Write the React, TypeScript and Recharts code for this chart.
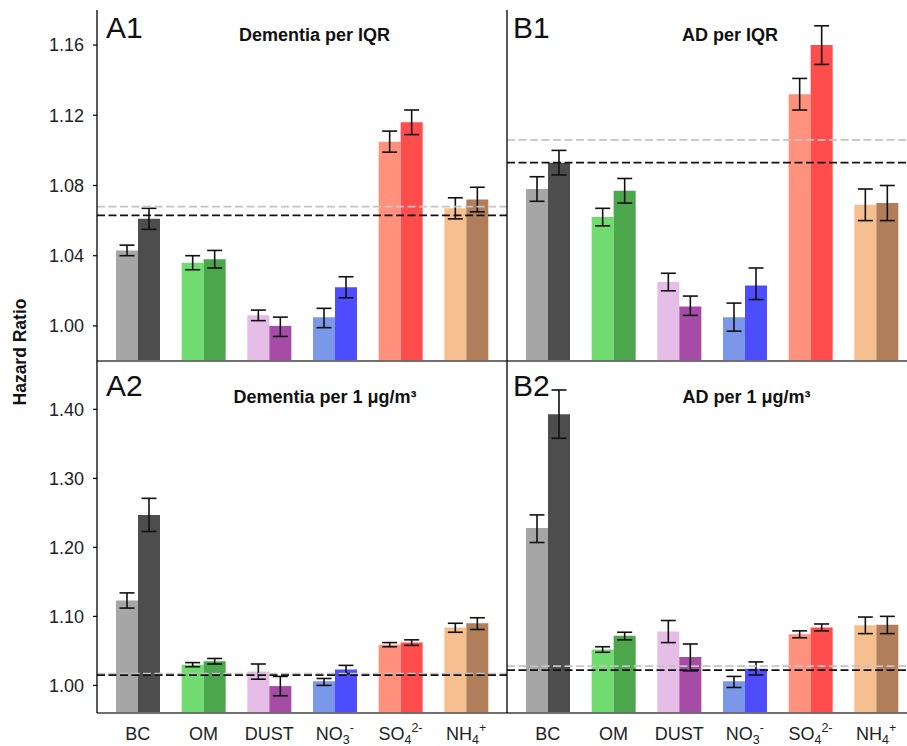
import React from 'react';
import { BarChart, Bar, XAxis, YAxis, ErrorBar, ReferenceLine, Cell } from 'recharts';

const FONT = "'Liberation Sans', Arial, Helvetica, sans-serif";

const categories = ['BC', 'OM', 'DUST', 'NO3', 'SO4', 'NH4'];
const lightColors = ['#a6a6a6', '#70db6e', '#e6bde6', '#7b98e8', '#ff917d', '#f6bf8f'];
const darkColors = ['#4d4d4d', '#4ca64c', '#a64ca6', '#4d4dff', '#ff4d4d', '#b07f5a'];

const topTicks = [1.0, 1.04, 1.08, 1.12, 1.16];
const bottomTicks = [1.0, 1.1, 1.2, 1.3, 1.4];
const topDomain = [0.98, 1.18];
const bottomDomain = [0.96, 1.47];

// A1 Dementia per IQR
const a1Light = [1.043, 1.036, 1.006, 1.005, 1.105, 1.067];
const a1LightLo = [1.040, 1.032, 1.003, 0.999, 1.099, 1.061];
const a1LightHi = [1.046, 1.040, 1.009, 1.010, 1.111, 1.073];
const a1Dark = [1.061, 1.038, 1.000, 1.022, 1.116, 1.072];
const a1DarkLo = [1.055, 1.033, 0.994, 1.016, 1.109, 1.065];
const a1DarkHi = [1.067, 1.043, 1.005, 1.028, 1.123, 1.079];
const a1Ref = [1.068, 1.063];

// B1 AD per IQR
const b1Light = [1.078, 1.062, 1.025, 1.005, 1.132, 1.069];
const b1LightLo = [1.071, 1.057, 1.020, 0.997, 1.123, 1.060];
const b1LightHi = [1.085, 1.067, 1.030, 1.013, 1.141, 1.078];
const b1Dark = [1.093, 1.077, 1.011, 1.023, 1.160, 1.070];
const b1DarkLo = [1.086, 1.070, 1.006, 1.015, 1.149, 1.060];
const b1DarkHi = [1.100, 1.084, 1.017, 1.033, 1.171, 1.080];
const b1Ref = [1.106, 1.093];

// A2 Dementia per 1 ug/m3
const a2Light = [1.123, 1.030, 1.020, 1.006, 1.059, 1.084];
const a2LightLo = [1.112, 1.027, 1.009, 1.000, 1.056, 1.077];
const a2LightHi = [1.134, 1.033, 1.031, 1.010, 1.062, 1.090];
const a2Dark = [1.247, 1.035, 0.999, 1.023, 1.062, 1.090];
const a2DarkLo = [1.223, 1.031, 0.985, 1.017, 1.058, 1.081];
const a2DarkHi = [1.271, 1.039, 1.013, 1.029, 1.066, 1.098];
const a2Ref = [1.017, 1.015];

// B2 AD per 1 ug/m3
const b2Light = [1.228, 1.052, 1.078, 1.006, 1.074, 1.087];
const b2LightLo = [1.207, 1.048, 1.062, 0.997, 1.069, 1.075];
const b2LightHi = [1.247, 1.056, 1.094, 1.013, 1.079, 1.099];
const b2Dark = [1.393, 1.072, 1.041, 1.024, 1.084, 1.088];
const b2DarkLo = [1.358, 1.066, 1.021, 1.015, 1.079, 1.075];
const b2DarkHi = [1.428, 1.077, 1.060, 1.034, 1.089, 1.100];
const b2Ref = [1.028, 1.022];

function buildRows(l: number[], lLo: number[], lHi: number[], d: number[], dLo: number[], dHi: number[]) {
  return categories.map((c, i) => ({
    cat: c,
    light: l[i],
    lightErr: [l[i] - lLo[i], lHi[i] - l[i]],
    dark: d[i],
    darkErr: [d[i] - dLo[i], dHi[i] - d[i]],
  }));
}

const a1Rows = buildRows(a1Light, a1LightLo, a1LightHi, a1Dark, a1DarkLo, a1DarkHi);
const b1Rows = buildRows(b1Light, b1LightLo, b1LightHi, b1Dark, b1DarkLo, b1DarkHi);
const a2Rows = buildRows(a2Light, a2LightLo, a2LightHi, a2Dark, a2DarkLo, a2DarkHi);
const b2Rows = buildRows(b2Light, b2LightLo, b2LightHi, b2Dark, b2DarkLo, b2DarkHi);

const chem: Record<string, [string, string, string]> = {
  NO3: ['NO', '3', '-'],
  SO4: ['SO', '4', '2-'],
  NH4: ['NH', '4', '+'],
};

const XTick = (props: any) => {
  const { x, y, payload } = props;
  const v = payload.value as string;
  const parts = chem[v];
  return (
    <text x={x} y={y + 19} textAnchor="middle" fontSize={18} fill="#222" fontFamily={FONT}>
      {parts ? (
        <>
          <tspan>{parts[0]}</tspan>
          <tspan fontSize={12.5} dy={4}>{parts[1]}</tspan>
          <tspan fontSize={12.5} dy={-12}>{parts[2]}</tspan>
        </>
      ) : (
        v
      )}
    </text>
  );
};

type PanelProps = {
  rows: any[];
  domain: number[];
  ticks: number[];
  refs: number[];
  left: boolean;
  bottom: boolean;
};

function Panel({ rows, domain, ticks, refs, left, bottom }: PanelProps) {
  const width = left ? 507 : 411;
  const height = bottom ? 385 : 362;
  const margin = { top: bottom ? 0 : 10, right: 0, bottom: 0, left: 0 };
  return (
    <BarChart width={width} height={height} data={rows} margin={margin} barGap={0} barSize={22}>
      <XAxis
        dataKey="cat"
        type="category"
        padding={{ left: 8, right: 8 }}
        height={bottom ? 33 : 1}
        tickLine={false}
        tick={bottom ? <XTick /> : false}
        axisLine={{ stroke: '#707070', strokeWidth: 2 }}
        interval={0}
      />
      {!bottom && (
        <XAxis
          xAxisId="top"
          dataKey="cat"
          orientation="top"
          height={0}
          tick={false}
          tickLine={false}
          axisLine={{ stroke: '#000', strokeWidth: 1.3 }}
        />
      )}
      <YAxis
        type="number"
        domain={domain}
        ticks={ticks}
        width={left ? 97 : 1}
        interval={0}
        allowDataOverflow
        tick={left ? { fontSize: 18, fill: '#222', fontFamily: FONT } : false}
        tickLine={left ? { stroke: '#000', strokeWidth: 1.2 } : false}
        tickSize={4}
        tickMargin={9}
        tickFormatter={(v: number) => v.toFixed(2)}
        axisLine={{ stroke: '#000', strokeWidth: 1.3 }}
      />
      <Bar dataKey="light" isAnimationActive={false}>
        {rows.map((r, i) => (
          <Cell key={r.cat} fill={lightColors[i]} />
        ))}
        <ErrorBar dataKey="lightErr" width={7.5} stroke="#111" strokeWidth={1.6} direction="y" />
      </Bar>
      <Bar dataKey="dark" isAnimationActive={false}>
        {rows.map((r, i) => (
          <Cell key={r.cat} fill={darkColors[i]} />
        ))}
        <ErrorBar dataKey="darkErr" width={7.5} stroke="#111" strokeWidth={1.6} direction="y" />
      </Bar>
      <ReferenceLine y={refs[0]} stroke="#c4c4c4" strokeWidth={1.8} strokeDasharray="8 3.5" />
      <ReferenceLine y={refs[1]} stroke="#111" strokeWidth={1.8} strokeDasharray="8 3.5" />
    </BarChart>
  );
}

export default function App() {
  return (
    <div
      style={{
        position: 'fixed',
        left: 0,
        top: 0,
        width: 907,
        height: 746,
        overflow: 'hidden',
        background: '#fff',
        fontFamily: FONT,
      }}
    >
      <div style={{ position: 'absolute', left: 0, top: 0 }}>
        <Panel rows={a1Rows} domain={topDomain} ticks={topTicks} refs={a1Ref} left bottom={false} />
      </div>
      <div style={{ position: 'absolute', left: 506, top: 0 }}>
        <Panel rows={b1Rows} domain={topDomain} ticks={topTicks} refs={b1Ref} left={false} bottom={false} />
      </div>
      <div style={{ position: 'absolute', left: 0, top: 361 }}>
        <Panel rows={a2Rows} domain={bottomDomain} ticks={bottomTicks} refs={a2Ref} left bottom />
      </div>
      <div style={{ position: 'absolute', left: 506, top: 361 }}>
        <Panel rows={b2Rows} domain={bottomDomain} ticks={bottomTicks} refs={b2Ref} left={false} bottom />
      </div>
      <svg
        width={907}
        height={746}
        style={{ position: 'absolute', left: 0, top: 0, pointerEvents: 'none' }}
        fontFamily={FONT}
      >
        <text x={20} y={352} transform="rotate(-90 20 352)" textAnchor="middle" dominantBaseline="central" fontSize={17.5} fontWeight="bold" fill="#111">
          Hazard Ratio
        </text>
        <text x={106} y={38} fontSize={30} fill="#111">A1</text>
        <text x={513} y={38} fontSize={30} fill="#111">B1</text>
        <text x={106} y={396} fontSize={30} fill="#111">A2</text>
        <text x={513} y={396} fontSize={30} fill="#111">B2</text>
        <text x={314.5} y={40.5} textAnchor="middle" fontSize={18} fontWeight="bold" fill="#111">Dementia per IQR</text>
        <text x={730} y={41} textAnchor="middle" fontSize={18} fontWeight="bold" fill="#111">AD per IQR</text>
        <text x={325} y={403} textAnchor="middle" fontSize={18} fontWeight="bold" fill="#111">Dementia per 1 μg/m³</text>
        <text x={746.5} y={402.5} textAnchor="middle" fontSize={18} fontWeight="bold" fill="#111">AD per 1 μg/m³</text>
      </svg>
    </div>
  );
}
